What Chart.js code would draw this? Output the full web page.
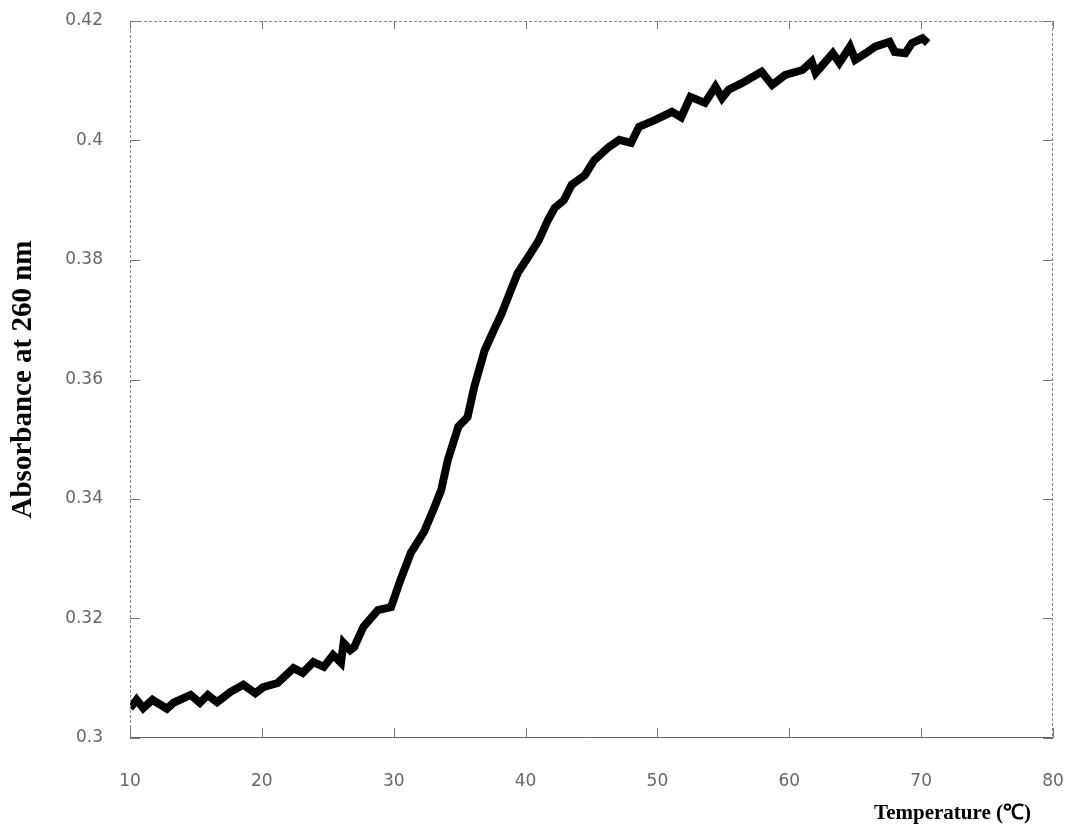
<!DOCTYPE html>
<html>
<head>
<meta charset="utf-8">
<script src="https://cdn.jsdelivr.net/npm/chart.js@4/dist/chart.umd.min.js"></script>
<style>
  html, body { margin: 0; padding: 0; background: #fff; }
  #wrap { width: 1067px; height: 829px; }
</style>
</head>
<body>
<div id="wrap"><canvas id="meltChart" width="1067" height="829"></canvas></div>
<script>
// Schmelzkurve: Temperatur (°C) gegen Absorption bei 260 nm
const temperature = [10.0, 10.5, 11.0, 11.7, 12.8, 13.3, 14.6, 15.3, 15.9, 16.6, 17.6, 18.6, 19.5, 20.1,
    21.2, 22.4, 23.1, 23.9, 24.7, 25.4, 26.0, 26.2, 26.7, 27.0, 27.7, 28.8, 29.8, 30.5, 31.3, 32.3,
    33.1, 33.6, 34.1, 34.9, 35.6, 36.1, 36.9, 37.6, 38.2, 38.8, 39.4, 40.2, 41.0, 41.7, 42.2, 42.9,
    43.5, 44.5, 45.2, 46.3, 47.1, 48.0, 48.6, 49.8, 51.1, 51.8, 52.5, 53.6, 54.4, 54.9, 55.4, 56.4,
    57.9, 58.7, 59.7, 61.0, 61.7, 62.0, 63.3, 63.8, 64.6, 65.0, 65.8, 66.5, 67.6, 68.0, 68.8, 69.3,
    70.1, 70.5];
const absorbance = [0.3050, 0.3064, 0.3050, 0.3064, 0.3049, 0.3059, 0.3072, 0.3059, 0.3072, 0.3060,
    0.3077, 0.3089, 0.3075, 0.3085, 0.3092, 0.3117, 0.3109, 0.3127, 0.3119, 0.3139, 0.3126, 0.3159,
    0.3147, 0.3152, 0.3186, 0.3214, 0.3219, 0.3264, 0.3310, 0.3345, 0.3387, 0.3415, 0.3465, 0.3521,
    0.3537, 0.3587, 0.3649, 0.3683, 0.3711, 0.3745, 0.3778, 0.3805, 0.3833, 0.3867, 0.3887, 0.3900,
    0.3926, 0.3942, 0.3967, 0.3989, 0.4001, 0.3996, 0.4023, 0.4034, 0.4048, 0.4039, 0.4073, 0.4063,
    0.4090, 0.4071, 0.4085, 0.4096, 0.4115, 0.4093, 0.4110, 0.4118, 0.4132, 0.4113, 0.4146, 0.4130,
    0.4157, 0.4135, 0.4146, 0.4157, 0.4165, 0.4148, 0.4146, 0.4163, 0.4171, 0.4163];
const xTicks = [10, 20, 30, 40, 50, 60, 70, 80];
const yTicks = [0.3, 0.32, 0.34, 0.36, 0.38, 0.4, 0.42];
const xTitle = 'Temperature (℃)';
const yTitle = 'Absorbance at 260 nm';

// Rahmen, nach innen zeigende Striche und x-Titel
const framePlugin = {
    id: 'frame',
    afterDraw(chart) {
        const ctx = chart.ctx;
        const a = chart.chartArea;
        const xs = chart.scales.x, ys = chart.scales.y;
        ctx.save();
        ctx.lineWidth = 1;
        ctx.strokeStyle = '#8a8a8a';
        ctx.setLineDash([3, 2]);
        ctx.beginPath();
        ctx.moveTo(a.left + 0.5, a.bottom);
        ctx.lineTo(a.left + 0.5, a.top + 0.5);
        ctx.lineTo(a.right - 0.5, a.top + 0.5);
        ctx.lineTo(a.right - 0.5, a.bottom);
        ctx.stroke();
        ctx.setLineDash([]);
        ctx.strokeStyle = '#666';
        ctx.beginPath();
        ctx.moveTo(a.left, a.bottom - 0.5);
        ctx.lineTo(a.right, a.bottom - 0.5);
        ctx.stroke();
        ctx.strokeStyle = '#777';
        ctx.beginPath();
        xTicks.forEach(v => {
            const px = Math.round(xs.getPixelForValue(v)) + 0.5;
            ctx.moveTo(px, a.bottom); ctx.lineTo(px, a.bottom - 10);
            ctx.moveTo(px, a.top); ctx.lineTo(px, a.top + 8);
        });
        yTicks.forEach(v => {
            const py = Math.round(ys.getPixelForValue(v)) + 0.5;
            ctx.moveTo(a.left, py); ctx.lineTo(a.left + 10, py);
            ctx.moveTo(a.right, py); ctx.lineTo(a.right - 10, py);
        });
        ctx.stroke();

        ctx.fillStyle = '#000';
        ctx.font = 'bold 21px "Liberation Serif"';
        ctx.textAlign = 'right';
        ctx.textBaseline = 'middle';
        ctx.fillText(xTitle, a.right - 22, 814);
        ctx.restore();
    }
};

const meltCtx = document.getElementById('meltChart').getContext('2d');
new Chart(meltCtx, {
    type: 'line',
    data: {
        datasets: [{
            data: temperature.map((t, i) => ({ x: t, y: absorbance[i] })),
            borderColor: '#000',
            borderWidth: 8,
            pointRadius: 0,
            tension: 0,
            fill: false
        }]
    },
    plugins: [framePlugin],
    options: {
        responsive: false,
        animation: false,
        layout: {
            padding: { top: 21, right: 14, left: 0, bottom: 0 }
        },
        scales: {
            x: {
                type: 'linear',
                min: 10,
                max: 80,
                afterBuildTicks: scale => { scale.ticks = xTicks.map(v => ({ value: v })); },
                afterFit: scale => {
                    scale.height = 91;
                    scale.paddingLeft = 0;
                    scale.paddingRight = 0;
                },
                grid: { display: false, drawTicks: false },
                border: { display: false },
                ticks: {
                    padding: 33,
                    color: '#666',
                    font: { family: 'DejaVu Sans', size: 17 },
                    maxRotation: 0
                }
            },
            y: {
                min: 0.3,
                max: 0.42,
                afterBuildTicks: scale => { scale.ticks = yTicks.map(v => ({ value: v })); },
                afterFit: scale => {
                    scale.width = 130;
                    scale.paddingTop = 0;
                    scale.paddingBottom = 0;
                },
                grid: { display: false, drawTicks: false },
                border: { display: false },
                ticks: {
                    padding: 27,
                    color: '#666',
                    font: { family: 'DejaVu Sans', size: 17 },
                    callback: v => String(v)
                },
                title: {
                    display: true,
                    text: yTitle,
                    align: 'center',
                    color: '#000',
                    font: { family: 'Liberation Serif', size: 29, weight: 'bold' },
                    padding: { top: 6, bottom: 0 }
                }
            }
        },
        plugins: {
            legend: { display: false },
            tooltip: { enabled: false }
        }
    }
});
</script>
</body>
</html>
